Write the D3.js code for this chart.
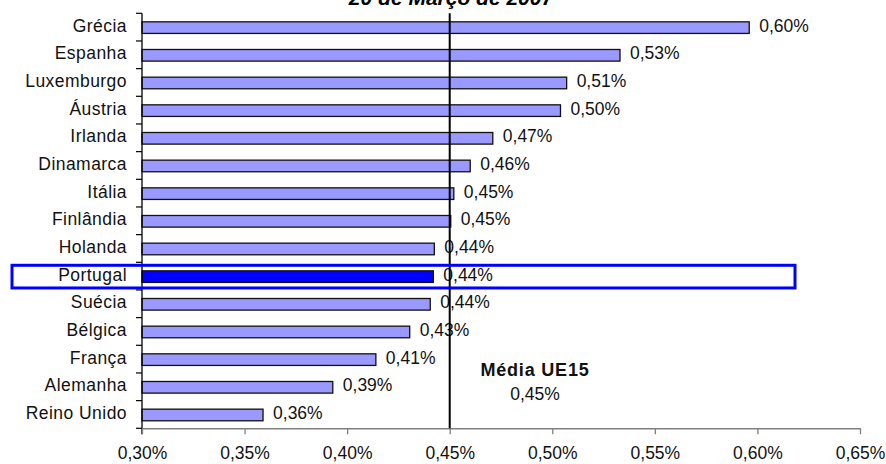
<!DOCTYPE html>
<html>
<head>
<meta charset="utf-8">
<script src="https://cdn.jsdelivr.net/npm/d3@7"></script>
<style>
  html, body { margin: 0; padding: 0; background: #fff; }
  svg { display: block; font-family: Arial, "Liberation Sans", sans-serif; }
</style>
</head>
<body>
<svg id="chart" width="886" height="464"></svg>
<script>
// Categories, top to bottom
const countries = ["Grécia", "Espanha", "Luxemburgo", "Áustria", "Irlanda", "Dinamarca",
  "Itália", "Finlândia", "Holanda", "Portugal", "Suécia", "Bélgica", "França",
  "Alemanha", "Reino Unido"];
// Values in percent
const values = [0.596, 0.533, 0.507, 0.504, 0.471, 0.46, 0.452, 0.4505, 0.4425, 0.442,
  0.4405, 0.4305, 0.414, 0.393, 0.359];
const highlighted = "Portugal";
const average = 0.45;
const averageLabel = "Média UE15";
const title = "20 de Março de 2007";
const xTicks = [0.30, 0.35, 0.40, 0.45, 0.50, 0.55, 0.60, 0.65];

const svg = d3.select("#chart");
const plotLeft = 142, plotRight = 860, plotTop = 13.3, plotBottom = 428.3;

const ptLocale = d3.formatLocale({ decimal: ",", thousands: ".", grouping: [3], currency: ["", " €"] });
const fmt = v => ptLocale.format(".2f")(v) + "%";

const x = d3.scaleLinear().domain([0.30, 0.65]).range([plotLeft, plotRight]);
const y = d3.scaleBand().domain(countries).range([plotTop, plotBottom]).padding(0);
const bw = y.bandwidth();
const barH = bw * 0.42;

const FS = 17.5;

// Title (partially outside the top edge)
svg.append("text")
  .attr("x", 451).attr("y", 4.5)
  .attr("text-anchor", "middle")
  .style("font-size", "21px").style("font-weight", "bold").style("font-style", "italic")
  .text(title);

// Bars
svg.append("g").selectAll("rect")
  .data(countries)
  .join("rect")
  .attr("x", x(0.30))
  .attr("y", d => y(d) + (bw - barH) / 2 + 0.5)
  .attr("width", (d, i) => x(values[i]) - x(0.30))
  .attr("height", barH)
  .attr("fill", d => d === highlighted ? "#0000FF" : "#9999FF")
  .attr("stroke", "#111")
  .attr("stroke-width", 1.3);

// Value labels
svg.append("g").selectAll("text")
  .data(countries)
  .join("text")
  .attr("x", (d, i) => x(values[i]) + 10)
  .attr("y", d => y(d) + bw / 2 + 4.5)
  .style("font-size", FS + "px")
  .attr("fill", "#111")
  .text((d, i) => fmt(values[i]));

// Category axis (left)
const yAxis = svg.append("g");
yAxis.append("line")
  .attr("x1", plotLeft).attr("x2", plotLeft).attr("y1", plotTop).attr("y2", plotBottom + 6)
  .attr("stroke", "#000").attr("stroke-width", 1.3);
yAxis.selectAll("line.tick")
  .data(d3.range(countries.length + 1))
  .join("line").attr("class", "tick")
  .attr("x1", plotLeft - 6).attr("x2", plotLeft)
  .attr("y1", i => plotTop + i * bw).attr("y2", i => plotTop + i * bw)
  .attr("stroke", "#000").attr("stroke-width", 1.2);
yAxis.selectAll("text")
  .data(countries)
  .join("text")
  .attr("x", plotLeft - 15)
  .attr("y", d => y(d) + bw / 2 + 4.5)
  .attr("text-anchor", "end")
  .style("font-size", FS + "px")
  .style("letter-spacing", "0.45px")
  .attr("fill", "#111")
  .text(d => d);

// Value axis (bottom)
const xAxis = svg.append("g")
  .attr("transform", `translate(0,${plotBottom})`)
  .call(d3.axisBottom(x).tickValues(xTicks).tickSize(6).tickSizeOuter(0).tickPadding(12).tickFormat(fmt));
xAxis.select(".domain").attr("stroke", "#808080").attr("stroke-width", 1.5);
xAxis.selectAll(".tick line").attr("stroke", "#808080").attr("stroke-width", 1.3);
xAxis.selectAll(".tick text")
  .style("font-size", FS + "px").style("font-family", "Arial, 'Liberation Sans', sans-serif")
  .attr("fill", "#111");

// Average line
svg.append("line")
  .attr("x1", x(average)).attr("x2", x(average))
  .attr("y1", plotTop).attr("y2", plotBottom)
  .attr("stroke", "#000").attr("stroke-width", 2);

svg.append("text")
  .attr("x", 535).attr("y", 376)
  .attr("text-anchor", "middle")
  .style("font-size", "18px").style("font-weight", "bold")
  .style("letter-spacing", "0.8px")
  .attr("fill", "#111")
  .text(averageLabel);
svg.append("text")
  .attr("x", 535).attr("y", 400)
  .attr("text-anchor", "middle")
  .style("font-size", FS + "px")
  .attr("fill", "#111")
  .text(fmt(average));

// Highlight box around the selected row
svg.append("rect")
  .attr("x", 12).attr("y", y(highlighted) + 3)
  .attr("width", 783).attr("height", bw - 5)
  .attr("fill", "none")
  .attr("stroke", "#0000FF").attr("stroke-width", 3);
</script>
</body>
</html>
